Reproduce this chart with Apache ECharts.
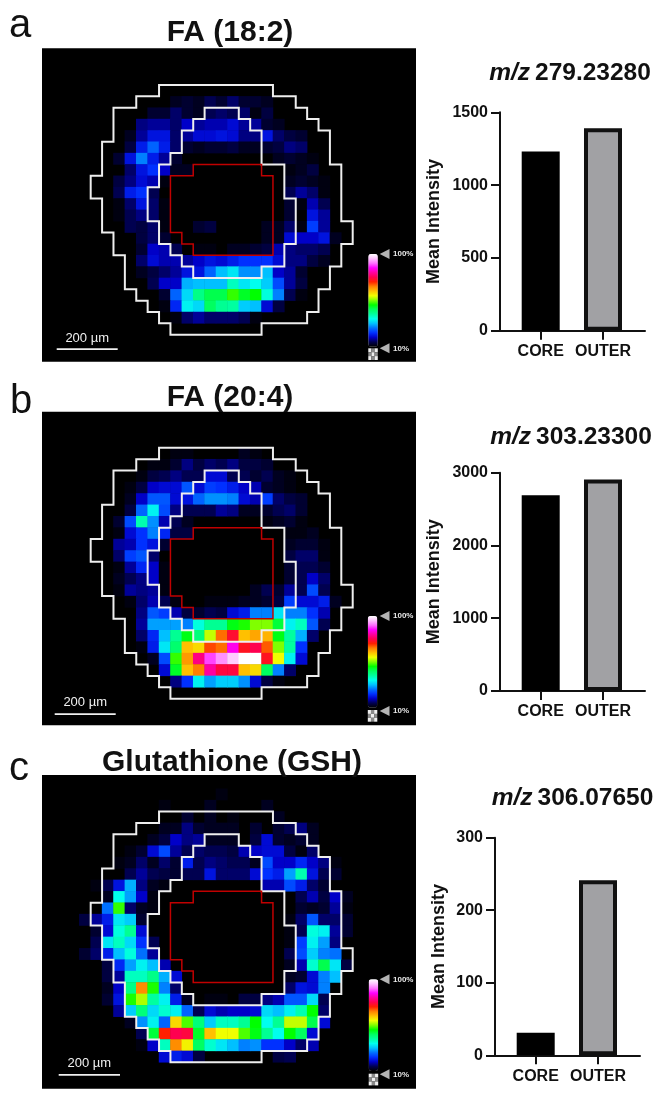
<!DOCTYPE html>
<html><head><meta charset="utf-8">
<style>html,body{margin:0;padding:0;background:#fff}#c{width:666px;height:1094px}</style>
<script src="https://cdn.jsdelivr.net/npm/echarts@6/dist/echarts.min.js"></script>
</head><body><div id="c"></div>
<script>
// colour scale, 5% steps from 0 to 100
const scaleColors = ['#000000','#000050','#0000c8','#0030ff','#0070ff','#00c0ff','#00ffee','#00ffa0','#00ff60','#00ff00','#80ff00','#f0ff00','#ffc000','#ff8000','#ff2000','#ff0050','#ff00a0','#ff00ff','#ff70ff','#ffc0ff','#ffffff'];
// region outlines, vertices in pixel-grid units
const outerPath = [[6,0],[16,0],[16,1],[18,1],[18,2],[19,2],[19,3],[20,3],[20,4],[21,4],[21,7],[22,7],[22,12],[23,12],[23,14],[22,14],[22,16],[21,16],[21,18],[20,18],[20,20],[19,20],[19,21],[15,21],[15,22],[7,22],[7,21],[6,21],[6,20],[5,20],[5,19],[4,19],[4,18],[3,18],[3,15],[2,15],[2,13],[1,13],[1,10],[0,10],[0,8],[1,8],[1,5],[2,5],[2,2],[4,2],[4,1],[6,1],[6,0]];
const innerPath = [[10,2],[13,2],[13,3],[14,3],[14,4],[15,4],[15,7],[17,7],[17,10],[18,10],[18,14],[17,14],[17,16],[15,16],[15,17],[9,17],[9,16],[8,16],[8,15],[7,15],[7,14],[6,14],[6,12],[5,12],[5,9],[6,9],[6,7],[7,7],[7,6],[8,6],[8,4],[9,4],[9,3],[10,3],[10,2]];
const corePath = [[9,7],[15,7],[15,8],[16,8],[16,15],[9,15],[9,14],[8,14],[8,13],[7,13],[7,8],[9,8],[9,7]];
// ion-image pixels: [row, first column, intensities from that column on]
const cellsA = [
[1,7,[2,3,2,5,3,6,3,3,2]],[2,5,[3,3,6,3,2,5,6,5,6,1,4]],[3,4,[7,8,8,6,10,8,9,9,11,8,8,3,2]],
[4,3,[2,8,12,12,6,8,11,11,12,11,7,7,12,6,4,3]],[5,3,[4,13,19,13,6,3,2,3,3,4,2,2,3,4,7,6]],
[6,2,[3,12,21,13,8,3]],[6,16,[2,3,2,1]],[7,3,[6,12,15,10,2,2]],[7,17,[1,2,4]],
[8,2,[4,7,11,9,1]],[8,17,[2,3,2,1]],[9,2,[5,13,15,5]],[9,17,[5,8,6,1]],
[10,2,[1,6,12,6,1]],[10,17,[3,1,9,5]],[11,2,[1,5,7,6,1]],[11,17,[3,0,12,8]],
[12,3,[5,4,6,1]],[12,9,[3,4]],[12,15,[2,2,6,1,16,8]],[13,4,[4,6,3]],[13,15,[2,2,11,10,10,12,2]],
[14,4,[3,10,9,5]],[14,9,[1,1]],[14,12,[2,2,3,4,9,7,6,6,5]],
[15,4,[6,11,9,9,8,10,12,11,13,15,15,15,11,7,7,4,2]],[16,4,[2,4,6,8,12,12,19,25,28,22,22,25,10,8,3]],
[17,5,[5,10,10,24,25,25,25,33,28,30,26,17,8,4]],[18,6,[3,19,27,37,41,41,47,43,45,31,21,5,1]],
[19,6,[1,14,29,27,40,36,35,26,25,11,4]],[20,7,[1,6,8,6,6,6,5,1]]];
const cellsB = [
[0,7,[1,1]],[0,13,[2,1]],[1,5,[1,1,3,7,4,6,5,7,4,4,3]],[2,4,[1,4,5,7,5,5,11,11,5,5,3,5,2,1]],
[3,3,[1,4,10,11,11,18,11,16,15,13,10,9,3,2,1]],[4,3,[2,10,18,18,11,12,19,22,22,21,11,9,16,6,4,3]],
[5,3,[4,19,29,17,7,5,5,5,8,7,2,2,3,5,6,3]],[6,2,[3,17,34,22,9,5,2]],[6,15,[1,2,3,1]],
[7,2,[1,11,15,21,14,4,4]],[7,17,[1,1,2]],[8,2,[8,9,15,12,3]],[8,17,[2,3,3,1]],
[9,2,[6,16,18,6]],[9,17,[4,6,6,1]],[10,2,[1,8,14,10,1]],[10,17,[3,5,5,3]],
[11,2,[2,5,7,10,1]],[11,17,[3,5,10,6]],[12,2,[1,8,7,8,1]],[12,14,[2,5,3,8,5,17,5]],
[13,3,[1,6,9,5,1]],[13,10,[1,1,1,2,2,3,4,16,11,11,13,2]],
[14,4,[7,18,16,9,4,3,5,4,11,13,21,21,28,21,21,15,9]],[15,4,[8,23,23,23,21,31,36,36,44,46,50,50,42,29,33,18,5]],
[16,4,[6,14,25,36,44,38,53,66,73,60,62,61,44,35,24,6]],[17,4,[1,13,28,39,60,58,68,66,84,72,75,67,50,35,15]],
[18,5,[2,17,47,63,78,88,92,96,100,100,72,55,29,11]],[19,6,[11,43,60,65,80,74,74,60,58,40,21,6]],
[20,7,[7,15,29,23,26,26,22,11,4,1]]];
const cellsC = [
[-2,11,[1]],[-1,6,[1]],[-1,10,[2]],[-1,15,[2]],[0,8,[3]],[0,10,[2]],[0,12,[1]],[0,16,[2]],
[1,6,[2,2,7,3,2,2,2]],[1,14,[3]],[1,16,[3,5,7,2]],[2,5,[2,4,10,7,8,2,2,2]],[2,14,[4,11,3,2,3,2]],
[3,3,[1,3,11,17,8,5,6,5,5,4,9,10,11,11,4,1,6]],[4,2,[1,2,6,2,6,3,13,5,7,6,5,5,2,17,10,10,14,10,7,1]],
[5,3,[5,8,5,4,3,5,5,12,6,6,6,11,15,13,23,34,12,5,3]],[6,0,[1,5,12,24,7,2,1]],[6,15,[9,9,17,13,6,3]],
[7,1,[2,30,23,10,1]],[7,18,[5,9,4,10,2]],[8,1,[20,47,6,2,1]],[8,18,[3,2,3,8,1]],
[9,-1,[4,8,13,28,26,3]],[9,17,[1,6,18,6,6,3]],[10,0,[3,11,31,36,11]],[10,17,[1,5,31,29,8,3]],
[11,0,[5,28,33,27,15,5]],[11,17,[1,16,29,23,7]],[12,-1,[3,6,13,25,31,20,8]],[12,17,[5,17,26,21,20]],
[13,1,[4,14,23,29,25,9]],[13,17,[2,9,32,41,28,4]],[14,1,[4,8,33,33,37,24,11]],[14,17,[2,3,11,21,25]],
[15,1,[2,10,37,64,46,21,6]],[15,17,[6,12,11,21]],[16,1,[3,12,46,52,35,29,13,2]],[16,10,[1,1]],[16,13,[4,4,7,9,18,18,27,5]],
[17,2,[8,26,38,27,32,29,19,5,11,9,10,10,11,27,25,29,34,45,6]],[18,3,[2,22,29,19,58,48,38,26,33,33,36,45,30,36,53,53,41,11]],
[19,4,[5,42,70,75,74,43,60,55,55,48,44,36,30,45,40,11]],[20,4,[1,10,33,64,56,40,32,28,25,21,22,15,15,10,6,9]],
[21,6,[11,13,11,4]],[21,16,[4,5]]];
// bar values
const barCategories = ['CORE','OUTER'];
const barsA = [1230,1390];
const barsB = [2690,2905];
const barsC = [31,241.5];
const titles = ['FA (18:2)','FA (20:4)','Glutathione (GSH)'];
const ions = ['279.23280','303.23300','306.07650'];
const letters = ['a','b','c'];
const yMaxes = [1500,3000,300];
const yIntervals = [500,1000,100];
const scaleLabel = '200 µm';
const FONT = '"Liberation Sans", Arial, sans-serif';

const colCount = 24, rowCount = 24, firstCol = -1, firstRow = -2;
const layouts = [
 {panel:[42,48.3,374,313.5], cells:[79.3,62.3,273.4,272.4], bar:{l:500,r:645,t:112.3,b:330.7,c1:540.7,c2:603,gap:57}, letterY:46, letterX:9, titleX:230,titleY:42, ionX:570,ionY:80.7, sb:[56.7,117.7,349,338], cb:{x:368.3,y:254,h:92.7,ty:254,cy:348.3,tl:348.3}},
 {panel:[42,411.7,374,313.5], cells:[79.3,425,273.4,273.7], bar:{l:500,r:645,t:472.7,b:691,c1:540.7,c2:603,gap:57}, letterY:422, letterX:10, titleX:230,titleY:407, ionX:571,ionY:444.3, sb:[54.7,115.7,714,702.7], cb:{x:367.8,y:616,h:91.7,ty:616,cy:710,tl:711}},
 {panel:[42,775,374,313.7], cells:[79.3,788.7,273.4,273.6], bar:{l:495,r:640,t:837.7,b:1055.3,c1:535.7,c2:598,gap:47}, letterY:789, letterX:9, titleX:232,titleY:772, ionX:572.5,ionY:806, sb:[58.7,120,1074.7,1063.7], cb:{x:368.7,y:979.3,h:91.7,ty:979.3,cy:1073.7,tl:1074.3}}
];
const cellSets = [cellsA,cellsB,cellsC];
const barSets = [barsA,barsB,barsC];

const grids=[],xAxes=[],yAxes=[],series=[],visualMaps=[],graphics=[],titleList=[];
const colNames = Array.from({length:colCount},(_,i)=>String(i+firstCol));
const rowNames = Array.from({length:rowCount},(_,i)=>String(i+firstRow));

function toHeat(set){
  const out=[];
  set.forEach(([r,c,vals])=>vals.forEach((v,i)=>{ if(v>0) out.push([c+i-firstCol, r-firstRow, v]); }));
  return out;
}

layouts.forEach((L,p)=>{
  // black panel
  graphics.push({type:'rect',silent:true,z:-1,shape:{x:L.panel[0],y:L.panel[1],width:L.panel[2],height:L.panel[3]},style:{fill:'#000'}});
  // image grid with category axes for cells, value axes for outlines
  const gi = grids.length;
  grids.push({left:L.cells[0],top:L.cells[1],width:L.cells[2],height:L.cells[3],show:false,containLabel:false});
  const xc=xAxes.length; xAxes.push({type:'category',gridIndex:gi,data:colNames,show:false});
  const xv=xAxes.length; xAxes.push({type:'value',gridIndex:gi,min:firstCol,max:firstCol+colCount,show:false});
  const yc=yAxes.length; yAxes.push({type:'category',gridIndex:gi,data:rowNames,inverse:true,show:false});
  const yv=yAxes.length; yAxes.push({type:'value',gridIndex:gi,min:firstRow,max:firstRow+rowCount,inverse:true,show:false});
  const hs=series.length;
  series.push({type:'heatmap',xAxisIndex:xc,yAxisIndex:yc,data:toHeat(cellSets[p]),silent:true,progressive:0,itemStyle:{borderWidth:0}});
  [[outerPath,'#eeeeee',2],[innerPath,'#eeeeee',2],[corePath,'#c00000',1.5]].forEach(([path,color,w])=>{
    series.push({type:'line',xAxisIndex:xv,yAxisIndex:yv,data:path,showSymbol:false,symbol:'none',silent:true,clip:false,z:5,lineStyle:{color,width:w,join:'miter',cap:'square'}});
  });
  visualMaps.push({type:'continuous',seriesIndex:hs,min:0,max:100,inRange:{color:scaleColors},left:L.cb.x,top:L.cb.y,itemWidth:9.5,itemHeight:L.cb.h,padding:0,calculable:false,realtime:false,hoverLink:false,text:null,showLabel:false,textStyle:{fontSize:0}});
  // colour scale decorations
  [[L.cb.ty,'100%'],[L.cb.tl,'10%']].forEach(([y,t])=>{
    graphics.push({type:'polygon',silent:true,z:6,shape:{points:[[379.7,y],[389.5,y-5],[389.5,y+5]]},style:{fill:'#b4b4b4'}});
    graphics.push({type:'text',silent:true,z:6,x:393,y:y,style:{text:t,fill:'#e8e8e8',font:'bold 8px '+FONT,textAlign:'left',textVerticalAlign:'middle'}});
  });
  const ck=3.9;
  for(let a=0;a<3;a++)for(let b=0;b<3;b++){
    graphics.push({type:'rect',silent:true,z:6,shape:{x:L.cb.x+a*(9.5/3),y:L.cb.cy+b*ck,width:9.5/3,height:ck},style:{fill:(a+b)%2?'#8a8a8a':'#eeeeee'}});
  }
  // scale bar
  graphics.push({type:'rect',silent:true,z:6,shape:{x:L.sb[0],y:L.sb[2]-0.8,width:L.sb[1]-L.sb[0],height:1.8},style:{fill:'#f0f0f0'}});
  graphics.push({type:'text',silent:true,z:6,x:(L.sb[0]+L.sb[1])/2,y:L.sb[3],style:{text:scaleLabel,fill:'#f0f0f0',font:'13px '+FONT,textAlign:'center',textVerticalAlign:'middle'}});
  // letters and titles
  graphics.push({type:'text',silent:true,z:7,x:L.letterX,y:L.letterY,style:{text:letters[p],fill:'#111',font:'40px '+FONT,textAlign:'left',textVerticalAlign:'bottom'}});
  titleList.push({text:titles[p],left:L.titleX,top:L.titleY-24,textAlign:'center',padding:0,z:8,textStyle:{fontFamily:FONT,fontWeight:'bold',fontSize:30,color:'#111',lineHeight:29}});
  titleList.push({text:'{i|m/z} {b|'+ions[p]+'}',left:L.ionX,top:L.ionY-20,textAlign:'center',padding:0,textStyle:{rich:{i:{fontFamily:FONT,fontWeight:'bold',fontStyle:'italic',fontSize:24.5,color:'#111'},b:{fontFamily:FONT,fontWeight:'bold',fontSize:24.5,color:'#111'}}}});
  // bars
  const B=L.bar, gb=grids.length, unit=B.c2-B.c1;
  grids.push({left:B.l,top:B.t,width:B.r-B.l,height:B.b-B.t,show:false});
  const bx=xAxes.length;
  xAxes.push({type:'value',gridIndex:gb,min:1-(B.c1-B.l)/unit,max:1+(B.r-B.c1)/unit,splitLine:{show:false},
    axisLine:{show:true,onZero:false,lineStyle:{color:'#111',width:2}},
    axisTick:{show:true,length:9,customValues:[1,2],lineStyle:{color:'#111',width:2}},
    axisLabel:{customValues:[1,2],margin:13,fontFamily:FONT,fontWeight:'bold',fontSize:16,color:'#111',formatter:v=>barCategories[Math.round(v)-1]||''}});
  const by=yAxes.length;
  yAxes.push({type:'value',gridIndex:gb,min:0,max:yMaxes[p],interval:yIntervals[p],splitLine:{show:false},
    name:'Mean Intensity',nameLocation:'middle',nameRotate:90,nameGap:B.gap,nameTextStyle:{fontFamily:FONT,fontWeight:'bold',fontSize:18,color:'#111'},
    axisLine:{show:true,lineStyle:{color:'#111',width:2}},
    axisTick:{show:true,length:9,lineStyle:{color:'#111',width:2}},
    axisLabel:{margin:12,fontFamily:FONT,fontWeight:'bold',fontSize:16,color:'#111',formatter:v=>String(v)}});
  series.push({type:'bar',xAxisIndex:bx,yAxisIndex:by,barWidth:38,silent:true,z:3,
    data:[
      {value:[1,barSets[p][0]],itemStyle:{color:'#000',borderColor:'#000',borderWidth:3}},
      {value:[2,barSets[p][1]],itemStyle:{color:'#a1a1a4',borderColor:'#111',borderWidth:4}}
    ]});
});

const chart = echarts.init(document.getElementById('c'),null,{renderer:'canvas'});
chart.setOption({animation:false,backgroundColor:'#fff',title:titleList,grid:grids,xAxis:xAxes,yAxis:yAxes,visualMap:visualMaps,series:series,graphic:{elements:graphics}});
</script></body></html>
